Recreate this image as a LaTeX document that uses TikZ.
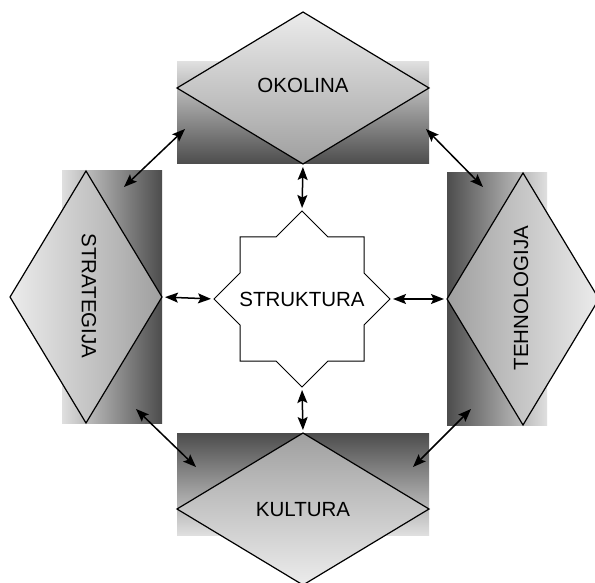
\documentclass[tikz,border=0pt]{standalone}
\usepackage{fontspec}
\setmainfont{Liberation Sans}
\usetikzlibrary{arrows.meta}
\begin{document}
\begin{tikzpicture}[x=1pt,y=-1pt,
  outl/.style={draw=black,line width=1.2pt},
  lbl/.style={font=\fontsize{20.5}{24}\selectfont,inner sep=0pt},
  hd/.tip={Stealth[length=13pt,width=10pt,inset=2.5pt]},
  dbl/.style={hd-hd,line width=1.5pt}]
\useasboundingbox (0,0) rectangle (595,583);
\fill[white] (0,0) rectangle (595,583);

% OKOLINA
\path[top color=gray!25,bottom color=black!70] (177,62) rectangle (429,164);
\coordinate (okT) at (303,12);
\coordinate (okL) at (177,88);
\coordinate (okR) at (429,88);
\coordinate (okB) at (303,164);
\path[outl,top color=gray!15,bottom color=gray!75] (okT)--(okR)--(okB)--(okL)--cycle;
\node[lbl] (ok) at (303,85) {OKOLINA};

% STRATEGIJA
\path[left color=gray!25,right color=black!70] (62,171) rectangle (162,423);
\coordinate (stT) at (86,171);
\coordinate (stL) at (10,297);
\coordinate (stR) at (162,297);
\coordinate (stB) at (86,423);
\path[outl,left color=gray!15,right color=gray!75] (stT)--(stR)--(stB)--(stL)--cycle;
\node[lbl,rotate=-90] (st) at (89,296) {STRATEGIJA};

% TEHNOLOGIJA
\path[left color=black!70,right color=gray!25] (447,173) rectangle (547,425);
\coordinate (teT) at (523,173);
\coordinate (teL) at (447,299);
\coordinate (teR) at (599,299);
\coordinate (teB) at (523,425);
\path[outl,left color=gray!75,right color=gray!15] (teT)--(teR)--(teB)--(teL)--cycle;
\node[lbl,rotate=90] (te) at (521,298) {TEHNOLOGIJA};

% KULTURA
\path[top color=black!70,bottom color=gray!25] (177,433) rectangle (429,535);
\coordinate (kuT) at (303,433);
\coordinate (kuL) at (177,509);
\coordinate (kuR) at (429,509);
\coordinate (kuB) at (303,585);
\path[outl,top color=gray!75,bottom color=gray!15] (kuT)--(kuR)--(kuB)--(kuL)--cycle;
\node[lbl] (ku) at (303,510) {KULTURA};

% STRUKTURA star
\begin{scope}[shift={(302,299)}]
\coordinate (sT) at (0,-88);
\coordinate (sB) at (0,88);
\coordinate (sL) at (-88,0);
\coordinate (sR) at (88,0);
\draw[line width=1pt,fill=white]
  (-62,-62)--(-26,-62)--(sT)--(26,-62)--(62,-62)--(62,-26)--(sR)--(62,26)--(62,62)
  --(26,62)--(sB)--(-26,62)--(-62,62)--(-62,26)--(sL)--(-62,-26)--cycle;
\node[lbl] (s) at (0,0) {STRUKTURA};
\end{scope}

% arrows to star
\draw[dbl,shorten <=3pt,shorten >=3pt] (okB) -- (sT);
\draw[dbl,shorten <=3pt,shorten >=3pt] (sB) -- (kuT);
\draw[dbl,shorten <=3pt,shorten >=3pt] (stR) -- (sL);
\draw[dbl,shorten <=3pt,shorten >=3pt] (sR) -- (teL);

% diagonal arrows
\coordinate (d1a) at (185,129);
\coordinate (d1b) at (124,187);
\coordinate (d2a) at (426,129);
\coordinate (d2b) at (483,187);
\coordinate (d3a) at (136,409);
\coordinate (d3b) at (196,467);
\coordinate (d4a) at (471,409);
\coordinate (d4b) at (413,467);
\draw[dbl] (d1a) -- (d1b);
\draw[dbl] (d2a) -- (d2b);
\draw[dbl] (d3a) -- (d3b);
\draw[dbl] (d4a) -- (d4b);
\end{tikzpicture}
\end{document}
